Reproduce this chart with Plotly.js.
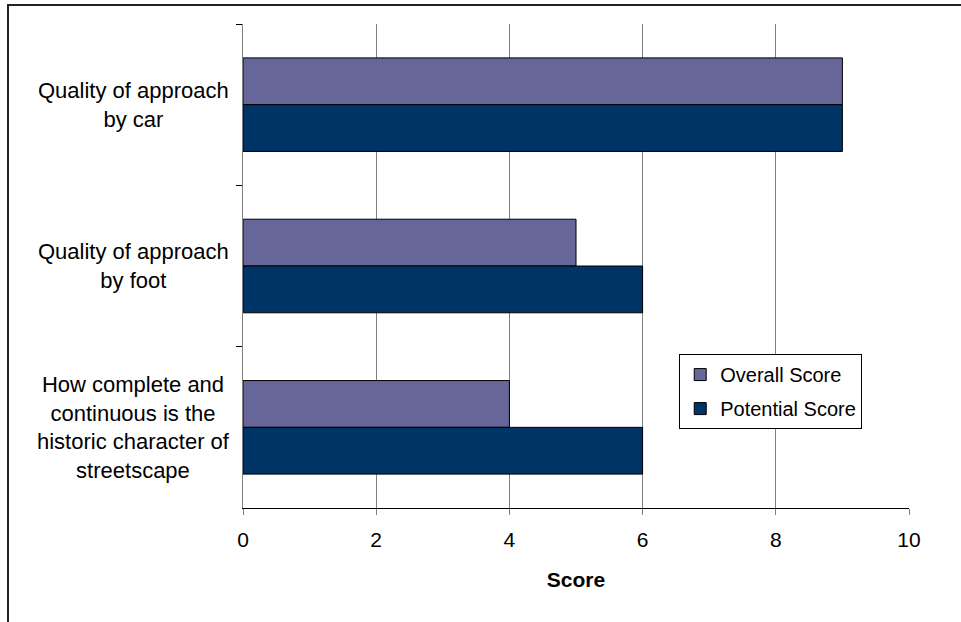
<!DOCTYPE html>
<html>
<head>
<meta charset="utf-8">
<script src="https://cdn.plot.ly/plotly-3.0.1.min.js"></script>
<style>
  html, body { margin: 0; padding: 0; background: #ffffff; }
  #frame {
    position: absolute; left: 7px; top: 4px; width: 1000px; height: 700px;
    border-left: 2px solid #222222; border-top: 2px solid #222222;
    pointer-events: none; z-index: 2;
  }
  #chart { position: absolute; left: 0; top: 0; width: 961px; height: 622px; }
</style>
</head>
<body>
<div id="chart"></div>
<div id="frame"></div>
<script>
// Survey categories (top to bottom) and their scores
const categories = [
  "Quality of approach<br>by car",
  "Quality of approach<br>by foot",
  "How complete and<br>continuous is the<br>historic character of<br>streetscape"
];
const overallScore = [9, 5, 4];
const potentialScore = [9, 6, 6];
const seriesNames = ["Overall Score", "Potential Score"];
const xTicks = [0, 2, 4, 6, 8, 10];

const font = "Liberation Sans, Arial, sans-serif";

const traces = [
  {
    type: "bar", orientation: "h", name: seriesNames[0],
    y: categories, x: overallScore, legendgroup: "a",
    marker: { color: "#666699", line: { color: "#000000", width: 1 } },
    hoverinfo: "x"
  },
  {
    type: "bar", orientation: "h", name: seriesNames[1],
    y: categories, x: potentialScore, legendgroup: "b",
    marker: { color: "#003366", line: { color: "#000000", width: 1 } },
    hoverinfo: "x"
  }
];

// Category labels drawn centred, left of the axis
const labelAnnotations = categories.map(c => ({
  text: c, xref: "paper", yref: "y", x: -0.165, y: c,
  showarrow: false, align: "center", xanchor: "center", yanchor: "middle",
  font: { family: font, size: 22, color: "#000000" }
}));

const layout = {
  width: 961, height: 622,
  margin: { l: 243, r: 52, t: 24, b: 114 },
  paper_bgcolor: "#ffffff", plot_bgcolor: "#ffffff",
  barmode: "group", bargap: 0.42, bargroupgap: 0,
  font: { family: font, size: 21, color: "#000000" },
  xaxis: {
    range: [0, 10], tickvals: xTicks, ticktext: xTicks.map(String),
    showgrid: true, gridcolor: "#808080", gridwidth: 1,
    showline: true, linecolor: "#000000", linewidth: 1,
    ticks: "outside", ticklen: 6, tickcolor: "#808080",
    zeroline: false, ticklabelstandoff: 7,
    tickfont: { family: font, size: 21, color: "#000000" },
    title: { text: "<b>Score</b>", standoff: 22, font: { family: font, size: 21, color: "#000000" } },
    fixedrange: true
  },
  yaxis: {
    type: "category", autorange: "reversed",
    showline: true, linecolor: "#808080", linewidth: 1,
    ticks: "outside", ticklen: 6, tickcolor: "#000000", tickson: "boundaries",
    showticklabels: false, showgrid: false, zeroline: false,
    fixedrange: true
  },
  legend: {
    x: 0.655, y: 0.318, xanchor: "left", yanchor: "top",
    bgcolor: "#ffffff", bordercolor: "#000000", borderwidth: 1,
    traceorder: "grouped", tracegroupgap: 5,
    font: { family: font, size: 20, color: "#000000" },
    itemwidth: 30
  },
  annotations: labelAnnotations,
  showlegend: true
};

Plotly.newPlot("chart", traces, layout, { displayModeBar: false, staticPlot: true });
</script>
</body>
</html>
